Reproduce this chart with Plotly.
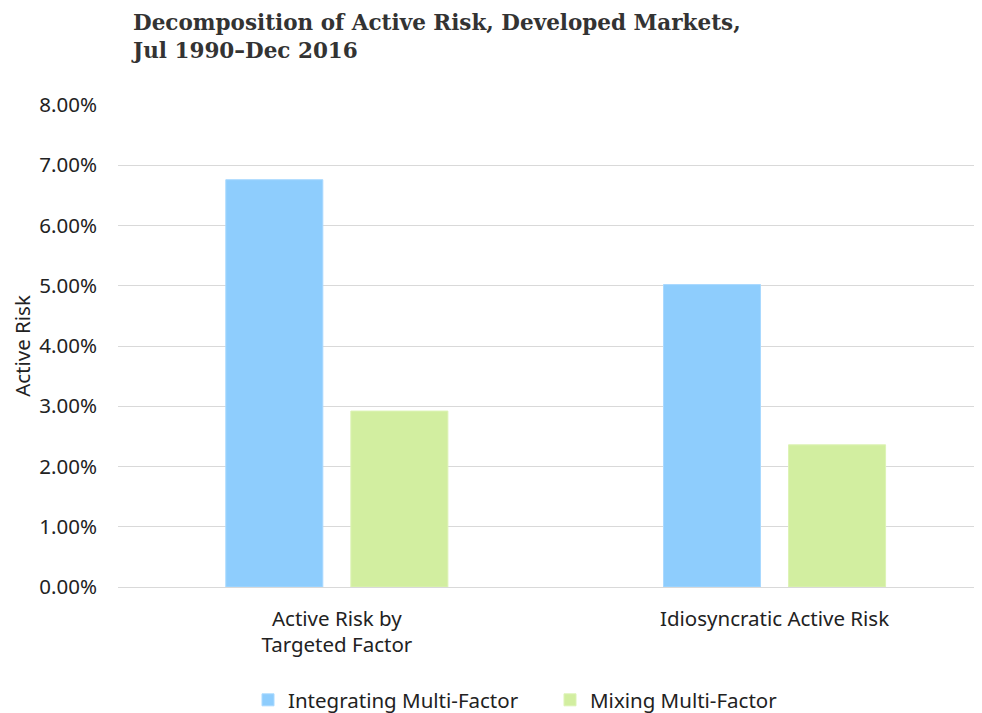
import plotly.graph_objects as go

# Active risk decomposition, developed markets (Jul 1990 - Dec 2016)
categories = ["Active Risk by<br>Targeted Factor", "Idiosyncratic Active Risk"]
integrating = [6.76, 5.02]
mixing = [2.92, 2.36]
y_ticks = [0, 1, 2, 3, 4, 5, 6, 7, 8]
y_tick_labels = [f"{v:.2f}%" for v in y_ticks]

BLUE = "#8ECDFD"
GREEN = "#D2EEA0"
FONT = "Noto Sans, Open Sans, sans-serif"
TEXT = "#222222"
FS = 20.5

# page has an 8px body margin, so the figure is 8px smaller than the window
W, H = 974, 705

fig = go.Figure()
fig.add_trace(go.Bar(
    name="Integrating Multi-Factor",
    x=categories, y=integrating,
    marker=dict(color=BLUE, line=dict(color="#A9D9FF", width=1)),
))
fig.add_trace(go.Bar(
    name="Mixing Multi-Factor",
    x=categories, y=mixing,
    marker=dict(color=GREEN, line=dict(color="#DDF3B5", width=1)),
))

fig.update_layout(
    width=W,
    height=H,
    template="plotly_white",
    paper_bgcolor="white",
    plot_bgcolor="white",
    font=dict(family=FONT, size=FS, color=TEXT),
    title=dict(
        text="Decomposition of Active Risk, Developed Markets,<br>Jul 1990\u2013Dec 2016",
        font=dict(family="DejaVu Serif, Liberation Serif, serif", size=21.5,
                  color="#333333", weight="bold"),
        x=125 / W, xref="container", xanchor="left",
        y=1 - 22 / H, yref="container", yanchor="top",
    ),
    margin=dict(l=110, r=0, t=97, b=126),
    barmode="group",
    bargap=0.4286,
    bargroupgap=0.224,
    showlegend=True,
    legend=dict(
        orientation="h",
        x=240 / W, xref="container", xanchor="left",
        y=1 - 692 / H, yref="container", yanchor="middle",
        font=dict(size=FS, color=TEXT),
        entrywidth=257,
        itemwidth=30,
    ),
)

fig.update_xaxes(
    range=[-0.5, 1.474],
    showgrid=False,
    showline=False,
    ticks="",
    ticklabelstandoff=17,
    tickfont=dict(size=FS, color=TEXT),
)
fig.update_yaxes(
    range=[0, 8],
    tickvals=y_ticks,
    ticktext=y_tick_labels,
    showgrid=True,
    gridcolor="#D9D9D9",
    gridwidth=1,
    zeroline=True,
    zerolinecolor="#D9D9D9",
    zerolinewidth=1,
    ticks="",
    ticklabelstandoff=20,
    tickfont=dict(size=FS, color=TEXT),
    title=dict(text="Active Risk", font=dict(size=FS, color=TEXT), standoff=12),
)

fig.write_html("out.html")
